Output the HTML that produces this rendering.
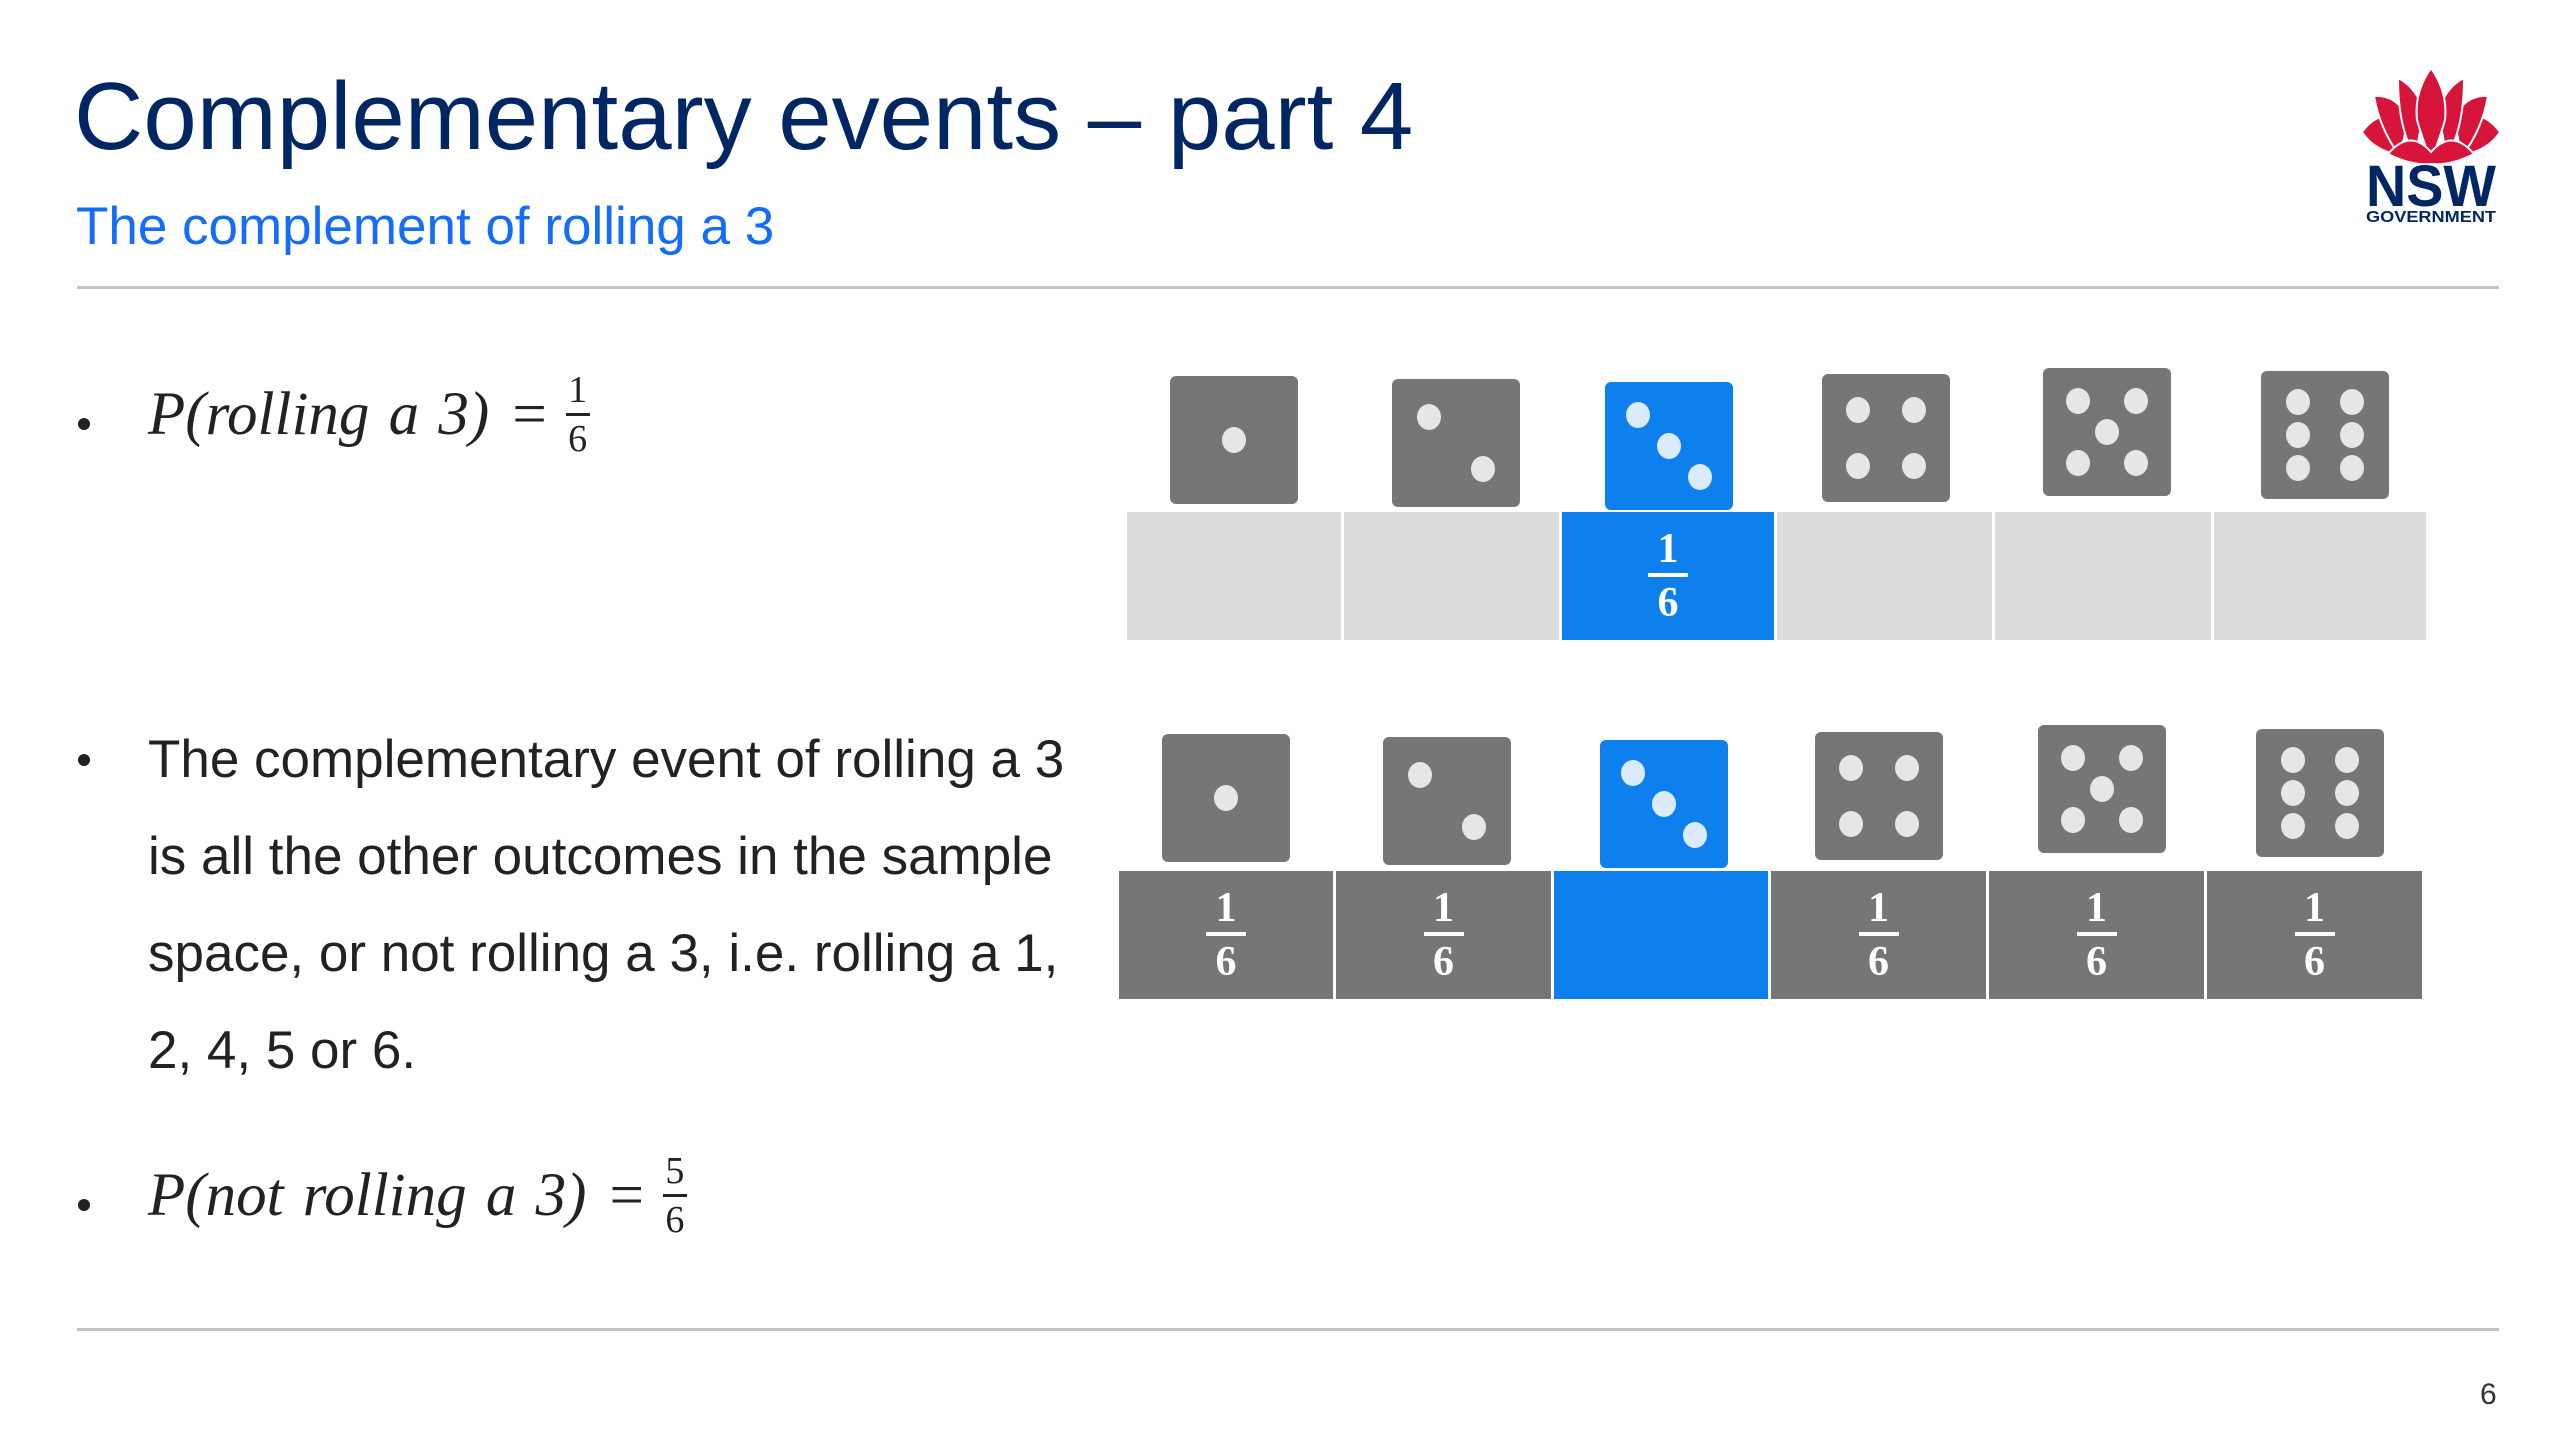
<!DOCTYPE html>
<html><head><meta charset="utf-8">
<style>
body{margin:0;width:2560px;height:1440px;background:#fff;position:relative;overflow:hidden;font-family:"Liberation Sans",Arial,sans-serif}
.a{position:absolute;white-space:nowrap}
.rule{position:absolute;left:77px;width:2422px;height:3px;background:#c4c4c4}
.die{position:absolute;width:128px;height:128px;border-radius:6px;background:#767676}
.die.b{background:#0e80ee}
.pip{position:absolute;width:24px;height:26px;border-radius:50%;background:#e6e6e6;transform:translate(-50%,-50%)}
.die.b .pip{background:#dbeafd}
.cell{position:absolute;display:flex;flex-direction:column;align-items:center;justify-content:center;color:#fff;font-family:"Liberation Serif",serif;font-weight:bold;font-size:42px;line-height:44px}
.cell hr{width:40px;border:0;height:4px;background:#fff;margin:2px 0 4px}
.math{font-family:"Liberation Serif",serif;font-style:italic;font-size:61px;color:#222;display:flex;align-items:center;word-spacing:4px}
.frac{display:inline-flex;flex-direction:column;align-items:center;font-style:normal;font-size:38px;line-height:40px;margin-left:16px}
.frac i{display:block;width:24px;height:3px;background:#222;margin:3px 0}
.bul{position:absolute;left:78px;width:12px;height:12px;border-radius:50%;background:#222}
.txt{font-size:53px;color:#222;line-height:97px}
</style></head><body>
<div class="a" style="left:74px;top:62px;font-size:96px;color:#002664">Complementary events – part 4</div>
<div class="a" style="left:76px;top:196px;font-size:53px;color:#146cfd">The complement of rolling a 3</div>
<div class="rule" style="top:286px"></div>
<div class="rule" style="top:1328px"></div>
<div class="a" style="left:2480px;top:1378px;font-size:30px;color:#333">6</div>

<svg class="a" style="left:2360px;top:68px" width="142" height="156" viewBox="0 0 142 156">
<g fill="#d7153a" stroke="#fff" stroke-width="2">
<path d="M2 64 Q20 40 40 52 Q38 72 34 86 Q12 80 2 64Z"/>
<path d="M140 64 Q122 40 102 52 Q104 72 108 86 Q130 80 140 64Z"/>
<path d="M14 28 Q36 26 48 50 Q44 72 40 88 Q20 62 14 28Z"/>
<path d="M128 28 Q106 26 94 50 Q98 72 102 88 Q122 62 128 28Z"/>
<path d="M38 10 Q58 20 64 46 Q58 70 56 90 Q38 62 38 10Z"/>
<path d="M104 10 Q84 20 78 46 Q84 70 86 90 Q104 62 104 10Z"/>
<path d="M71 0 Q88 24 85 52 Q78 76 71 92 Q64 76 57 52 Q54 24 71 0Z"/>
<path d="M28 86 Q50 60 71 84 Q92 60 114 86 Q90 98 71 96 Q52 98 28 86Z"/>
</g>
<text x="71" y="138" text-anchor="middle" font-family="Liberation Sans" font-weight="bold" font-size="58" fill="#002664" textLength="130" lengthAdjust="spacingAndGlyphs">NSW</text>
<text x="71" y="154" text-anchor="middle" font-family="Liberation Sans" font-weight="bold" font-size="16" fill="#002664" textLength="130" lengthAdjust="spacingAndGlyphs">GOVERNMENT</text>
</svg>

<div class="bul" style="top:418px"></div>
<div class="a math" style="left:148px;top:370px">P(rolling a 3) =<span class="frac">1<i></i>6</span></div>

<div class="bul" style="top:754px"></div>
<div class="a txt" style="left:148px;top:711px">The complementary event of rolling a 3<br>is all the other outcomes in the sample<br>space, or not rolling a 3, i.e. rolling a 1,<br>2, 4, 5 or 6.</div>

<div class="bul" style="top:1199px"></div>
<div class="a math" style="left:148px;top:1151px">P(not rolling a 3) =<span class="frac">5<i></i>6</span></div>

<div id="d"></div>
<script>
var P={1:[[.5,.5]],2:[[.29,.3],[.71,.7]],3:[[.26,.26],[.5,.5],[.74,.74]],4:[[.28,.28],[.72,.28],[.28,.72],[.72,.72]],5:[[.27,.26],[.73,.26],[.5,.5],[.27,.74],[.73,.74]],6:[[.29,.24],[.71,.24],[.29,.5],[.71,.5],[.29,.76],[.71,.76]]};
var top1=[[1170,376],[1392,379],[1605,382],[1822,374],[2043,368],[2261,371]];
var top2=[[1162,734],[1383,737],[1600,740],[1815,732],[2038,725],[2256,729]];
var h='';
function die(n,x,y){var s='<div class="die'+(n==3?' b':'')+'" style="left:'+x+'px;top:'+y+'px">';P[n].forEach(function(p){s+='<div class="pip" style="left:'+(p[0]*128)+'px;top:'+(p[1]*128)+'px"></div>'});return s+'</div>';}
for(var i=0;i<6;i++){h+=die(i+1,top1[i][0],top1[i][1]);h+=die(i+1,top2[i][0],top2[i][1]);}
var b1=[1127,1344,1562,1777,1995,2214,2429],b2=[1119,1336,1554,1771,1989,2207,2425];
for(var i=0;i<6;i++){
 var blue=i==2;
 h+='<div class="cell" style="left:'+b1[i]+'px;top:512px;width:'+(b1[i+1]-b1[i]-3)+'px;height:128px;background:'+(blue?'#0e80ee':'#dcdcdc')+'">'+(blue?'1<hr>6':'')+'</div>';
 h+='<div class="cell" style="left:'+b2[i]+'px;top:871px;width:'+(b2[i+1]-b2[i]-3)+'px;height:128px;background:'+(blue?'#0e80ee':'#767676')+'">'+(blue?'':'1<hr>6')+'</div>';
}
document.getElementById('d').innerHTML=h;
</script>
</body></html>
